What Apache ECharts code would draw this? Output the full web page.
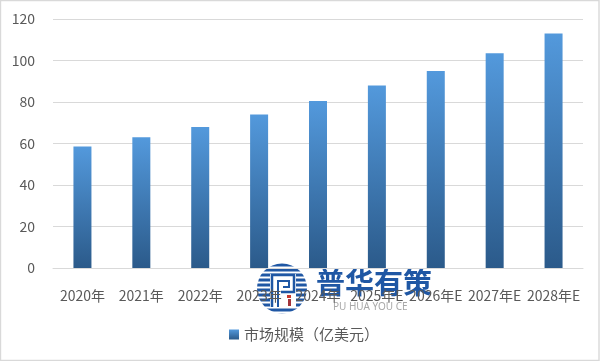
<!DOCTYPE html>
<html>
<head>
<meta charset="utf-8">
<style>
  html, body { margin: 0; padding: 0; background: #fff; }
  #chart { width: 601px; height: 361px; }
</style>
<script src="https://cdn.jsdelivr.net/npm/echarts@6/dist/echarts.min.js"></script>
</head>
<body>
<div id="chart"></div>
<script>
const categories = ["2020年", "2021年", "2022年", "2023年", "2024年", "2025年E", "2026年E", "2027年E", "2028年E"];
const marketSize = [58.5, 63, 68, 74, 80.5, 88, 95, 103.5, 113];
const seriesName = "市场规模（亿美元）";
const fontFamily = '"Noto Sans CJK SC", "Noto Sans", sans-serif';

const chart = echarts.init(document.getElementById("chart"));

const logoBlue = "#1f57a4";

// watermark logo: striped circle, then the wordmark
const logo = [];
logo.push({ type: "circle", shape: { cx: 282, cy: 288.5, r: 25 }, style: { fill: logoBlue }, z: 0 });
for (let y = 266.5; y < 312; y += 5) {
  logo.push({ type: "rect", shape: { x: 255, y: y, width: 54, height: 2 }, style: { fill: "#fff" }, z: 0 });
}
logo.push({ type: "rect", shape: { x: 270, y: 274, width: 26, height: 33 }, style: { fill: "#fff" }, z: 0 });
logo.push({ type: "polyline", shape: { points: [[272, 307], [272, 275], [294, 275], [294, 292], [281, 292]] }, style: { stroke: logoBlue, lineWidth: 2.5, fill: null }, z: 0 });
logo.push({ type: "polyline", shape: { points: [[278, 307], [278, 281], [289, 281], [289, 287], [283, 287]] }, style: { stroke: logoBlue, lineWidth: 2, fill: null }, z: 0 });
logo.push({ type: "rect", shape: { x: 287, y: 295, width: 4, height: 3 }, style: { fill: "#c9372c" }, z: 0 });
logo.push({ type: "rect", shape: { x: 288, y: 299, width: 3, height: 7 }, style: { fill: "#a3343a" }, z: 0 });
logo.push({ type: "text", style: { x: 316, y: 268, text: "普华有策", fill: logoBlue, font: 'bold 29px "Noto Sans CJK SC"' }, z: 0 });
logo.push({ type: "text", style: { x: 333, y: 302, text: "PU HUA YOU CE", fill: "#a8a8a8", font: '10px "Noto Sans"' }, z: 0 });
// outer frame of the picture
logo.push({ type: "rect", shape: { x: 0.5, y: 0.5, width: 598.5, height: 360 }, style: { fill: null, stroke: "#d9d9d9", lineWidth: 1.4 }, z: 0 });

const option = {
  animation: false,
  backgroundColor: "#fff",
  textStyle: { fontFamily: fontFamily },
  grid: { left: 53, right: 18, top: 19, bottom: 93 },
  legend: {
    bottom: 14,
    left: 224,
    icon: "rect",
    itemWidth: 10,
    itemHeight: 10,
    itemGap: 5,
    textStyle: { fontSize: 15, color: "#595959", fontFamily: fontFamily },
    data: [seriesName],
  },
  xAxis: {
    type: "category",
    data: categories,
    z: 5,
    axisLine: { lineStyle: { color: "#d9d9d9" } },
    axisTick: { show: false },
    axisLabel: { color: "#595959", fontSize: 14, margin: 21, interval: 0, fontFamily: fontFamily },
  },
  yAxis: {
    type: "value",
    min: 0,
    max: 120,
    interval: 20,
    axisLine: { show: false },
    axisTick: { show: false },
    axisLabel: { color: "#595959", fontSize: 14, margin: 18, fontFamily: fontFamily },
    splitLine: { lineStyle: { color: "#d9d9d9" } },
  },
  series: [
    {
      name: seriesName,
      type: "bar",
      data: marketSize,
      barWidth: 18,
      itemStyle: {
        color: new echarts.graphic.LinearGradient(0, 0, 0, 1, [
          { offset: 0, color: "#5399dc" },
          { offset: 1, color: "#2b5a8a" },
        ]),
      },
    },
  ],
  graphic: logo,
};

chart.setOption(option);
</script>
</body>
</html>
